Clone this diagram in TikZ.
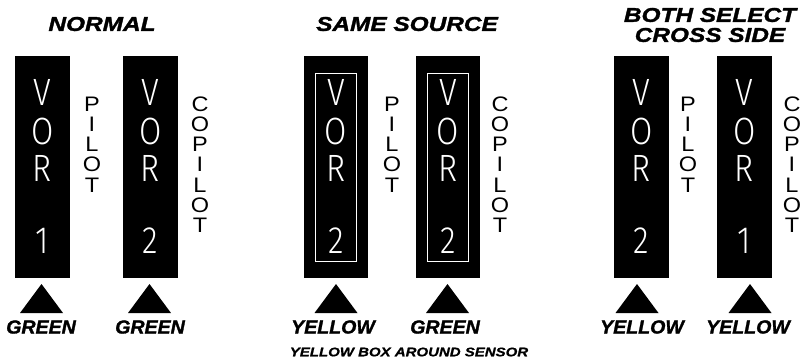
\documentclass[tikz,border=0pt]{standalone}
\usepackage{fontspec}
\setmainfont{Liberation Sans}
\newfontfamily\headfont[FakeStretch=1.22, FakeBold=1.6]{Liberation Sans}
\newfontfamily\lampfont[FakeStretch=1.03, FakeBold=1.4]{Liberation Sans}
\newfontfamily\notefont[FakeStretch=1.2, FakeBold=1]{Liberation Sans}
\newfontfamily\sidefont[FakeStretch=1.12]{Liberation Sans}
\newfontfamily\vorfont[FakeStretch=0.85]{Fira Sans Light}
\usepackage{tikz}

\begin{document}
\begin{tikzpicture} %VOR source select
      [
      x=1pt, y=-1pt,
      title/.style={font=\headfont\bfseries\itshape\fontsize{20}{20}\selectfont, inner sep=0pt, align=center},
      lamp/.style={font=\lampfont\bfseries\itshape\fontsize{19}{19}\selectfont, inner sep=0pt},
      note/.style={font=\notefont\bfseries\itshape\fontsize{12.5}{12.5}\selectfont, inner sep=0pt},
      sensor/.style={rectangle, fill=black, minimum width=55pt, minimum height=222pt, inner sep=0pt},
      wide sensor/.style={sensor, minimum width=64pt},
      yellowbox/.style={rectangle, draw=white, line width=1pt, minimum width=41pt, minimum height=188pt, inner sep=0pt},
      vorchar/.style={text=white, font=\vorfont\fontsize{38}{38}\selectfont, inner sep=0pt},
      side/.style={font=\sidefont\fontsize{21}{21}\selectfont, inner sep=0pt}
      ]
      \useasboundingbox (0,0) rectangle (812,362);

      % titles
      \node[title] (t1) at (102,24) {NORMAL};
      \node[title] (t2) at (407,24) {SAME SOURCE};
      \node[title] (t3) at (710,25) {BOTH SELECT\\CROSS SIDE};

      % sensors
      \node[sensor] (n1) at (42.5,167) {};
      \node[sensor] (n2) at (150.5,167) {};
      \node[wide sensor] (s1) at (336,167) {};
      \node[wide sensor] (s2) at (448,167) {};
      \node[sensor] (c1) at (641.5,167) {};
      \node[sensor] (c2) at (744.5,167) {};
      \node[yellowbox] (s1y) at (s1) {};
      \node[yellowbox] (s2y) at (s2) {};

      % VOR letters and source number
      \foreach \sb/\num in {n1/1, n2/2, s1/2, s2/2, c1/2, c2/1} {
        \node[vorchar] (\sb-v) at ([yshift=75pt]\sb) {V};
        \node[vorchar] (\sb-o) at ([yshift=36pt]\sb) {O};
        \node[vorchar] (\sb-r) at ([yshift=-1pt]\sb) {R};
        \node[vorchar] (\sb-n) at ([yshift=-74pt]\sb) {\num};
      }

      % pilot / copilot
      \foreach \xx/\nm in {92/n, 392/s, 688/c} {
        \foreach \ch [count=\i] in {P,I,L,O,T}
          \node[side] (\nm-pilot-\i) at (\xx,83.8+20.2*\i) {\ch};
      }
      \foreach \xx/\nm in {200/n, 500/s, 792/c} {
        \foreach \ch [count=\i] in {C,O,P,I,L,O,T}
          \node[side] (\nm-copilot-\i) at (\xx,83.8+20.2*\i) {\ch};
      }

      % annunciator pointers
      \foreach \xx [count=\i] in {41.5, 149.5, 336, 447.5, 637, 750} {
        \coordinate (tip\i) at (\xx,284);
        \fill[black] (tip\i) -- ++(21.5,29) -- ++(-43,0) -- cycle;
      }

      % lamp colours
      \node[lamp] (l1) at (41,327) {GREEN};
      \node[lamp] (l2) at (150,327) {GREEN};
      \node[lamp] (l3) at (333,327) {YELLOW};
      \node[lamp] (l4) at (445,327) {GREEN};
      \node[lamp] (l5) at (642,327) {YELLOW};
      \node[lamp] (l6) at (748,327) {YELLOW};

      \node[note] (remark) at (409,352) {YELLOW BOX AROUND SENSOR};
\end{tikzpicture}
\end{document}
